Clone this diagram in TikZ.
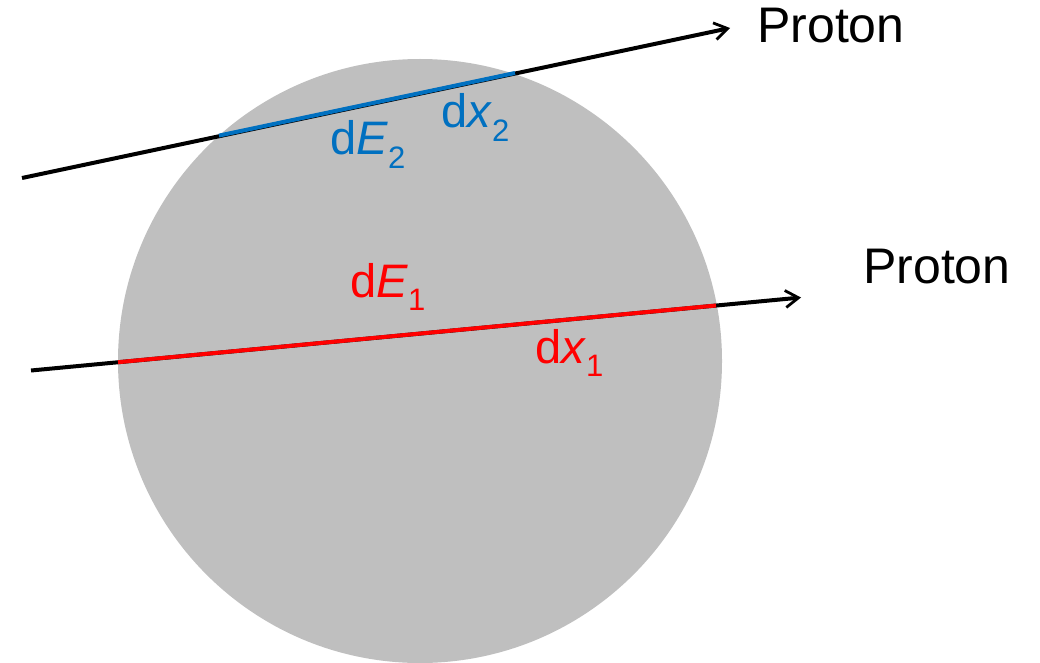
\documentclass[tikz,border=0pt]{standalone}
\usepackage{fontspec}
\setmainfont{Liberation Sans}
\usetikzlibrary{arrows.meta}
\definecolor{ballgray}{HTML}{BFBFBF}
\definecolor{segblue}{HTML}{0070C0}
\definecolor{segred}{HTML}{FF0000}
\newcommand{\mysub}[1]{\raisebox{-0.29em}{\fontsize{31}{31}\selectfont #1}}
\begin{document}
\begin{tikzpicture}[x=1pt,y=-1pt,
  track/.style={line width=4pt,black,-{Straight Barb[length=13pt,width=17pt,line width=2.8pt]}},
  segment/.style={line width=4pt},
  lbl/.style={anchor=base west,inner sep=0pt,font=\fontsize{47}{56}\selectfont},
  plbl/.style={anchor=base west,inner sep=0pt,font=\fontsize{50}{60}\selectfont}]
\useasboundingbox (0,0) rectangle (1040,663);
\fill[ballgray] (420,361) circle[radius=302];
% coordinates
\coordinate (s2) at (22,178);
\coordinate (e2) at (730,28);
\coordinate (a2) at (219,135.6);
\coordinate (b2) at (515,73);
\coordinate (s1) at (31,370.5);
\coordinate (e1) at (801,297.5);
\coordinate (a1) at (118,362.2);
\coordinate (b1) at (716,305.5);
% tracks
\draw[track] (s2) -- (e2);
\draw[track] (s1) -- (e1);
\draw[segment,segblue] (a2) -- (b2);
\draw[segment,segred] (a1) -- (b1);
% labels
\node[plbl] (p2) at (757,43) {Proton};
\node[plbl] (p1) at (863,283) {Proton};
\node[lbl,text=segblue] (de2) at (330,155) {d\textit{E}\mysub{2}};
\node[lbl,text=segblue] (dx2) at (441,128) {d\textit{x}\mysub{2}};
\node[lbl,text=segred] (de1) at (350,297) {d\textit{E}\mysub{1}};
\node[lbl,text=segred] (dx1) at (535,363) {d\textit{x}\mysub{1}};
\end{tikzpicture}
\end{document}
